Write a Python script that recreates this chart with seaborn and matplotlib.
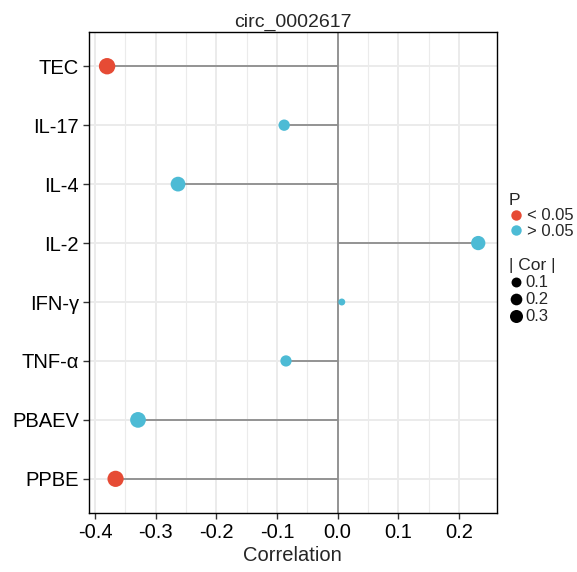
import numpy as np
import pandas as pd
import matplotlib
matplotlib.use("Agg")
import matplotlib.pyplot as plt
from matplotlib.lines import Line2D
import seaborn as sns

# data, top to bottom as in the figure
genes = ["TEC", "IL-17", "IL-4", "IL-2", "IFN-γ", "TNF-α", "PBAEV", "PPBE"]
cor = [-0.380, -0.088, -0.263, 0.232, 0.007, -0.085, -0.329, -0.366]
pval_group = ["< 0.05", "> 0.05", "> 0.05", "> 0.05", "> 0.05", "> 0.05", "> 0.05", "< 0.05"]
title = "circ_0002617"
size_breaks = [0.1, 0.2, 0.3]
x_ticks = [-0.4, -0.3, -0.2, -0.1, 0.0, 0.1, 0.2]

palette = {"< 0.05": "#E64B35", "> 0.05": "#4DBBD5"}

sns.set_theme(style="white")
plt.rcParams["font.family"] = ["Liberation Sans", "DejaVu Sans"]

df = pd.DataFrame({"gene": genes, "cor": cor, "P": pval_group})
df["abs_cor"] = df["cor"].abs()
df = df.iloc[::-1].reset_index(drop=True)  # bottom first -> TEC ends on top

# ggplot-like area scaling: diameter linear in sqrt of rescaled value
vmin, vmax = df["abs_cor"].min(), df["abs_cor"].max()
d_min, d_max = 5.0, 11.8  # points


def diam(v):
    t = np.clip((np.asarray(v) - vmin) / (vmax - vmin), 0, 1)
    return d_min + (d_max - d_min) * np.sqrt(t)


fig = plt.figure(figsize=(5.77, 5.72), dpi=100)
ax = fig.add_axes([0.1534, 0.1031, 0.7076, 0.8409])

# grid (theme_bw style)
ax.set_xticks(x_ticks)
ax.set_xticks(np.array(x_ticks[:-1]) + 0.05, minor=True)
ax.grid(True, which="major", color="#EBEBEB", linewidth=1.4, zorder=0)
ax.grid(True, which="minor", axis="x", color="#EBEBEB", linewidth=0.8, zorder=0)

ax.axvline(0, color="#8C8C8C", linewidth=1.3, zorder=1)
ax.hlines(df["gene"], 0, df["cor"], color="#8C8C8C", linewidth=1.3, zorder=2)

sns.scatterplot(data=df, x="cor", y="gene", hue="P", palette=palette,
                s=diam(df["abs_cor"]) ** 2, linewidth=0, legend=False,
                ax=ax, zorder=3)

ax.set_xlim(-0.4106, 0.2626)
ax.set_ylim(-0.58, 7.58)
ax.set_xticklabels([f"{v:.1f}" for v in x_ticks])
ax.tick_params(axis="both", which="major", labelsize=14.5, length=4, width=1,
               color="#333333", labelcolor="black", pad=3, bottom=True, left=True)
ax.tick_params(axis="x", which="minor", length=0)
ax.set_xlabel("Correlation", fontsize=14.5, labelpad=3)
ax.set_ylabel("")
ax.set_title(title, fontsize=14, pad=4)
for sp in ax.spines.values():
    sp.set_color("black")
    sp.set_linewidth(1.0)

# legends
h1 = [Line2D([], [], marker="o", linestyle="", markersize=7.5, markeredgewidth=0,
             color=palette[k], label=k) for k in palette]
leg1 = fig.legend(handles=h1, title="P", loc="upper left",
                  bbox_to_anchor=(0.870, 0.675), frameon=False, fontsize=12,
                  title_fontsize=12.5, handletextpad=0.2, labelspacing=0.05,
                  borderaxespad=0, handlelength=0.9, alignment="left")
h2 = [Line2D([], [], marker="o", linestyle="", markersize=float(diam(b)) * 0.85,
             markeredgewidth=0, color="black", label=f"{b:.1f}") for b in size_breaks]
leg2 = fig.legend(handles=h2, title="| Cor |", loc="upper left",
                  bbox_to_anchor=(0.870, 0.560), frameon=False, fontsize=12,
                  title_fontsize=12.5, handletextpad=0.1, labelspacing=0.12,
                  borderaxespad=0, handlelength=0.9, alignment="left")

fig.savefig("out.png", dpi=100)
